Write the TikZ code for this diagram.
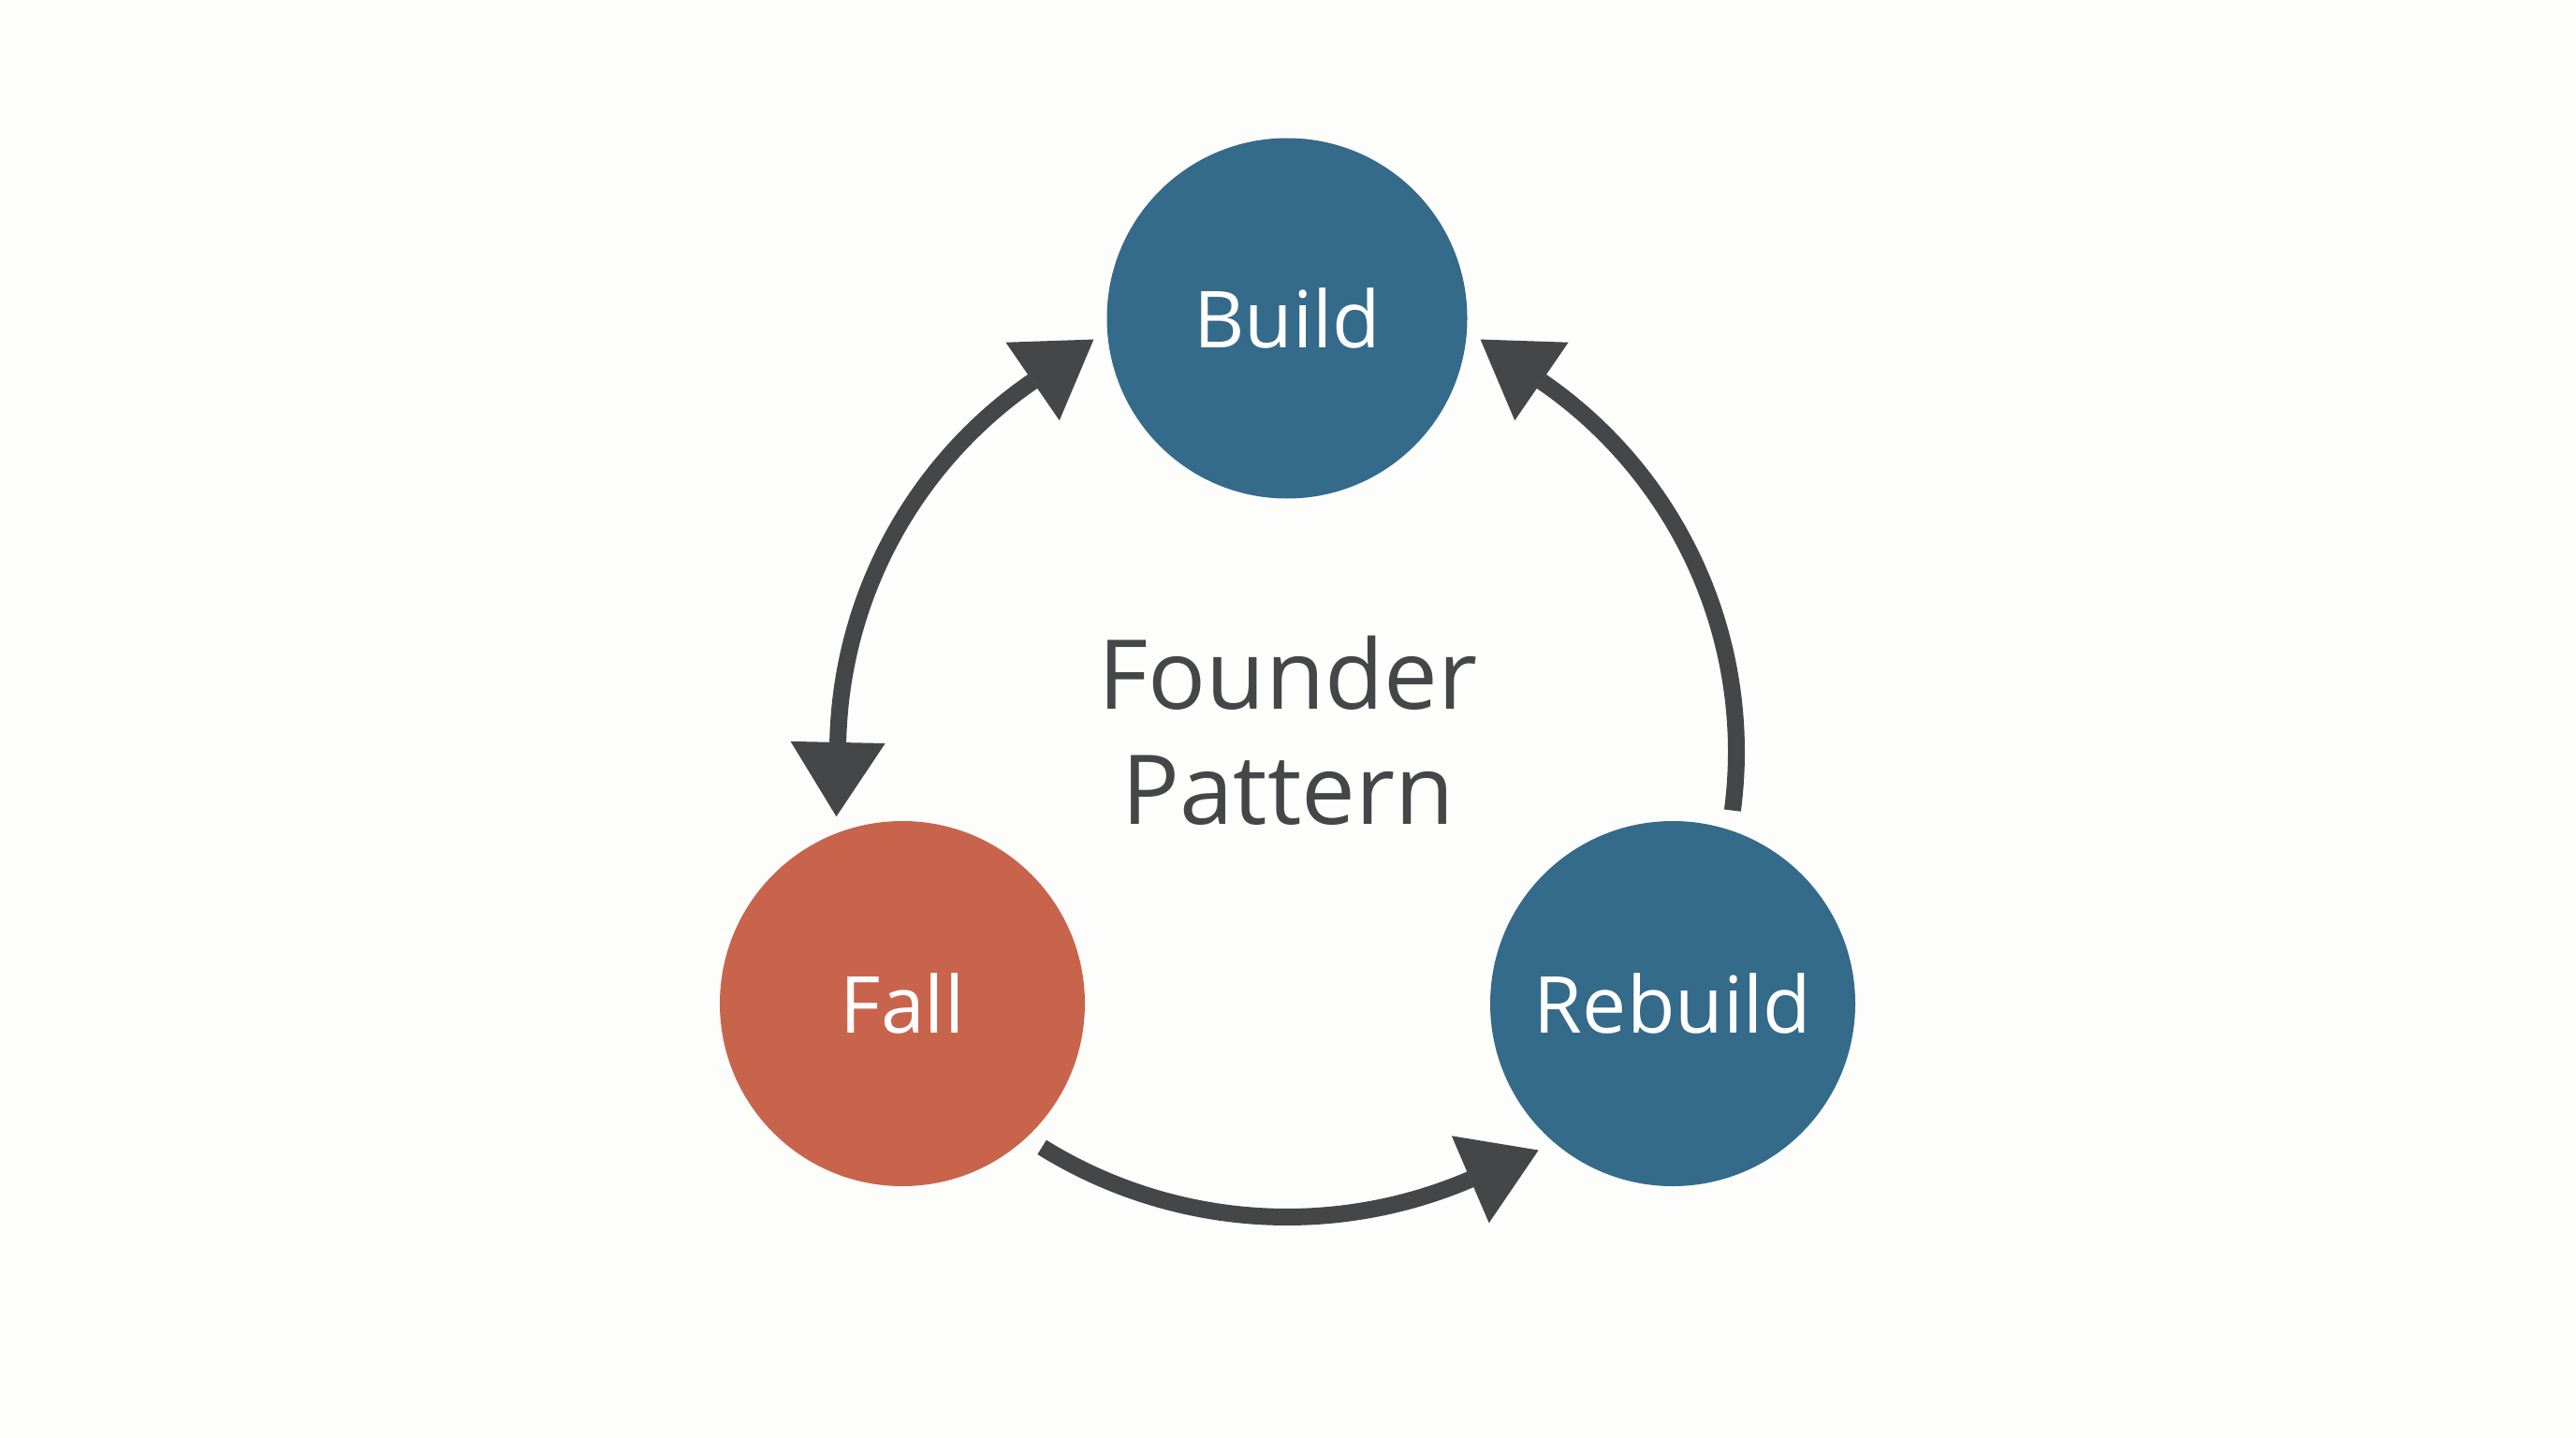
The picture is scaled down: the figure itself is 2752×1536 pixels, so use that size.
\documentclass[tikz,border=0pt]{standalone}
\usepackage{fontspec}
\setmainfont{Open Sans}
\usetikzlibrary{arrows.meta}
\definecolor{bgc}{HTML}{FDFDFB}
\definecolor{blu}{HTML}{346A8A}
\definecolor{redc}{HTML}{C9644C}
\definecolor{ink}{HTML}{444648}
\tikzset{
  phase/.style={circle, inner sep=0pt, text=white, font=\fontsize{84}{90}\selectfont},
  cyc/.style={draw=ink, line width=18pt, line cap=butt},
  tipc/.style={draw=ink, line width=18pt, -{Triangle[length=80pt, width=96pt]}},
}
\begin{document}
\begin{tikzpicture}[x=1pt, y=-1pt]
\fill[bgc] (0,0) rectangle (2752,1536);
\useasboundingbox (0,0) rectangle (2752,1536);
\node[phase, fill=blu, minimum size=385pt] (build) at (1375,340) {Build};
\node[phase, fill=redc, minimum size=390pt] (fall) at (964,1072) {Fall};
\node[phase, fill=blu, minimum size=390pt] (rebuild) at (1787,1072) {Rebuild};
\node[text=ink, align=center, font=\fontsize{103}{123}\selectfont] (title) at (1376,780) {Founder\\Pattern};
% common centre of the cycle arcs
\coordinate (cc) at (1375,803);
% left arc (double headed): Build <-> Fall
\coordinate (lbaseb) at ([shift={(181.2:480)}]cc);
\coordinate (lbaset) at ([shift={(235.5:480)}]cc);
\coordinate (ltipb) at ([shift={(91.2:80)}]lbaseb);
\coordinate (ltipt) at ([shift={(325.5:80)}]lbaset);
\draw[cyc] (lbaseb) arc[start angle=181.2, end angle=235.5, radius=480];
\draw[tipc] (lbaseb) -- (ltipb);
\draw[tipc] (lbaset) -- (ltipt);
% right arc: Rebuild -> Build
\coordinate (rstart) at ([shift={(7.5:480)}]cc);
\coordinate (rbase) at ([shift={(-55.5:480)}]cc);
\coordinate (rtip) at ([shift={(214.5:80)}]rbase);
\draw[cyc] (rstart) arc[start angle=7.5, end angle=-55.5, radius=480];
\draw[tipc] (rbase) -- (rtip);
% bottom arc: Fall -> Rebuild
\coordinate (bstart) at ([shift={(121.8:497)}]cc);
\coordinate (bbase) at ([shift={(66.8:497)}]cc);
\coordinate (btip) at ([shift={(-23.2:80)}]bbase);
\draw[cyc] (bstart) arc[start angle=121.8, end angle=66.8, radius=497];
\draw[tipc] (bbase) -- (btip);
\end{tikzpicture}
\end{document}
